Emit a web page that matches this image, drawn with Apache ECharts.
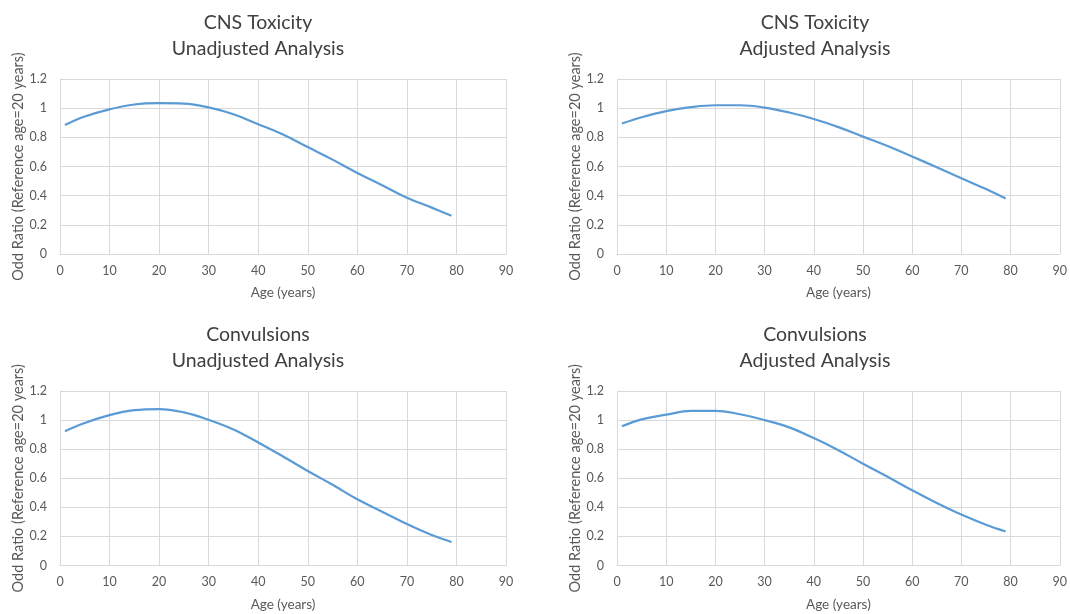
<!DOCTYPE html>
<html>
<head>
<meta charset="utf-8">
<script src="https://cdn.jsdelivr.net/npm/echarts@6/dist/echarts.min.js"></script>
<style>
html,body{margin:0;padding:0;background:#fff;}
#chart{width:1070px;height:614px;}
</style>
</head>
<body>
<div id="chart"></div>
<script>
// Data
var ages = [1, 5, 10, 15, 20, 25, 30, 35, 40, 45, 50, 55, 60, 65, 70, 75, 79];
var cnsUnadjusted  = [0.885, 0.943, 0.992, 1.025, 1.034, 1.031, 1.005, 0.958, 0.89, 0.82, 0.733, 0.647, 0.556, 0.472, 0.386, 0.318, 0.262];
var cnsAdjusted    = [0.895, 0.938, 0.98, 1.007, 1.02, 1.02, 1.004, 0.97, 0.926, 0.87, 0.805, 0.74, 0.668, 0.595, 0.52, 0.445, 0.38];
var convUnadjusted = [0.924, 0.98, 1.034, 1.068, 1.076, 1.053, 1.002, 0.936, 0.846, 0.75, 0.65, 0.555, 0.455, 0.37, 0.285, 0.21, 0.162];
var convAdjusted   = [0.957, 1.005, 1.037, 1.063, 1.064, 1.04, 1.0, 0.95, 0.876, 0.793, 0.7, 0.61, 0.517, 0.43, 0.35, 0.28, 0.234];
var xTicks = [0, 10, 20, 30, 40, 50, 60, 70, 80, 90];
var yTicks = [0, 0.2, 0.4, 0.6, 0.8, 1, 1.2];
var titles = [
  ['CNS Toxicity', 'Unadjusted Analysis'],
  ['CNS Toxicity', 'Adjusted Analysis'],
  ['Convulsions', 'Unadjusted Analysis'],
  ['Convulsions', 'Adjusted Analysis']
];
var seriesValues = [cnsUnadjusted, cnsAdjusted, convUnadjusted, convAdjusted];
var xName = 'Age (years)';
var yName = 'Odd Ratio (Reference age=20 years)';

var FONT = 'Lato, "Open Sans", sans-serif';
var grids = [
  {left: 60, top: 79, width: 446, height: 175},
  {left: 617, top: 79, width: 445, height: 175},
  {left: 60, top: 391, width: 446, height: 174.5},
  {left: 617, top: 391, width: 445, height: 174.5}
];
var titlePos = [
  {left: 258, top: 10},
  {left: 815, top: 10},
  {left: 258, top: 322},
  {left: 815, top: 322}
];

function pairs(vals) {
  return ages.map(function (a, i) { return [a, vals[i]]; });
}

var option = {
  backgroundColor: '#ffffff',
  animation: false,
  title: titles.map(function (t, i) {
    return {
      text: t.join('\n'),
      left: titlePos[i].left,
      top: titlePos[i].top,
      textAlign: 'center',
      padding: 0,
      textStyle: {fontFamily: FONT, fontSize: 19.5, fontWeight: 'normal', color: '#404040', lineHeight: 26}
    };
  }),
  grid: grids.map(function (g) {
    return {left: g.left, top: g.top, width: g.width, height: g.height, containLabel: false};
  }),
  xAxis: grids.map(function (g, i) {
    return {
      type: 'value', gridIndex: i,
      min: xTicks[0], max: xTicks[xTicks.length - 1], interval: xTicks[1] - xTicks[0],
      name: xName, nameLocation: 'middle', nameGap: 32,
      nameTextStyle: {fontFamily: FONT, fontSize: 13.5, color: '#595959'},
      axisLine: {show: true, lineStyle: {color: '#d9d9d9', width: 1}},
      axisTick: {show: false},
      axisLabel: {fontFamily: FONT, fontSize: 12.5, color: '#595959', margin: 10},
      splitLine: {show: true, lineStyle: {color: '#d9d9d9', width: 1}}
    };
  }),
  yAxis: grids.map(function (g, i) {
    return {
      type: 'value', gridIndex: i,
      min: yTicks[0], max: yTicks[yTicks.length - 1], interval: 0.2,
      name: yName, nameLocation: 'middle', nameGap: 34, nameRotate: 90,
      nameTextStyle: {fontFamily: FONT, fontSize: 14.5, color: '#595959'},
      axisLine: {show: true, lineStyle: {color: '#d9d9d9', width: 1}},
      axisTick: {show: false},
      axisLabel: {fontFamily: FONT, fontSize: 12.5, color: '#595959', margin: 13},
      splitLine: {show: true, lineStyle: {color: '#d9d9d9', width: 1}}
    };
  }),
  series: seriesValues.map(function (vals, i) {
    return {
      type: 'line', xAxisIndex: i, yAxisIndex: i,
      data: pairs(vals),
      smooth: 0.4,
      showSymbol: false,
      lineStyle: {color: '#5B9BD5', width: 2.2},
      itemStyle: {color: '#5B9BD5'}
    };
  })
};

var chart = echarts.init(document.getElementById('chart'), null, {renderer: 'canvas'});
chart.setOption(option);
</script>
</body>
</html>
